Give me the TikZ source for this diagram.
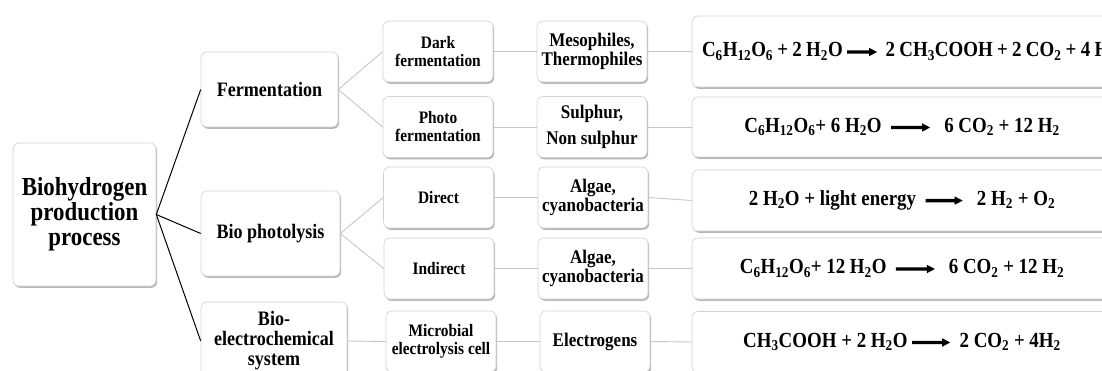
\documentclass[tikz,border=0pt]{standalone}
\usepackage{fontspec}
\setmainfont{Liberation Serif}[FakeStretch=0.88]
\usetikzlibrary{shadows}
\newcommand{\ssub}[1]{\textsubscript{#1}}
\newcommand{\eqsp}{\spaceskip=0.2em plus 0.02em\relax}
\newcommand{\rarr}[1]{\tikz[baseline=-5pt, sharp corners]{\fill[black, sharp corners] (0pt,1.7pt) -- (#1-8pt,1.7pt) -- (#1-8pt,4.2pt) -- (#1,0pt) -- (#1-8pt,-4.2pt) -- (#1-8pt,-1.7pt) -- (0pt,-1.7pt) -- cycle;}}
\begin{document}
\begin{tikzpicture}[x=1pt,y=-1pt,
  box/.style={draw=gray!35, line width=0.6pt, rounded corners=6pt, fill=white, align=center, inner sep=2pt,
    drop shadow={shadow xshift=1.2pt, shadow yshift=-1.8pt, fill=gray!80, opacity=0.7}},
  rootbox/.style={box, minimum width=143pt, minimum height=143pt, font=\bfseries\fontsize{26}{25}\selectfont},
  lvlone/.style={box, font=\bfseries\fontsize{20.5}{20}\selectfont},
  lvltwo/.style={box, minimum width=110pt, minimum height=61pt, font=\bfseries\fontsize{17.5}{18}\selectfont},
  lvlthree/.style={box, minimum width=110pt, minimum height=61pt, font=\bfseries\fontsize{19.3}{19}\selectfont},
  eqbox/.style={box, minimum width=420pt, text width=400pt, inner xsep=10pt,
    font=\bfseries\fontsize{21.5}{22}\selectfont},
  mainline/.style={draw=black, line width=1pt},
  subline/.style={draw=gray!45, line width=0.9pt}]
\clip (0,0) rectangle (1102,371);
\fill[white] (0,0) rectangle (1102,371);

\node[rootbox] (root) at (84.5,214.5) {Biohydrogen\\production\\process};

\node[lvlone, minimum width=137pt, minimum height=75pt] (ferm) at (269.5,89.5) {Fermentation};
\node[lvlone, minimum width=139pt, minimum height=85pt] (photo) at (270.5,233.5) {Bio photolysis};
\node[lvlone, minimum width=146pt, minimum height=78pt] (bes) at (274,341) {Bio-\\electrochemical\\system};

\node[lvltwo] (dark) at (438,51.5) {Dark\\fermentation};
\node[lvltwo] (pf) at (438,127) {Photo\\fermentation};
\node[lvltwo] (direct) at (438.5,197.5) {Direct};
\node[lvltwo] (indirect) at (439,268.5) {Indirect};
\node[lvltwo] (mec) at (441,341.5) {Microbial\\electrolysis cell};

\node[lvlthree] (meso) at (592,51.5) {Mesophiles,\\Thermophiles};
\node[lvlthree] (sulph) at (592,127) {Sulphur,\\[7pt]Non sulphur};
\node[lvlthree] (algone) at (593,197.5) {Algae,\\cyanobacteria};
\node[lvlthree] (algtwo) at (593,268.5) {Algae,\\cyanobacteria};
\node[lvlthree] (elec) at (595,341.5) {Electrogens};

\node[eqbox, minimum height=71pt, align=left] (eqone) at (902,51.5)
  {\eqsp\mbox{C\ssub{6}H\ssub{12}O\ssub{6} + 2 H\ssub{2}O \rarr{30pt}\ \ 2 CH\ssub{3}COOH + 2 CO\ssub{2} + 4 H\ssub{2}}};
\node[eqbox, minimum height=60pt, align=center] (eqtwo) at (902,127)
  {\eqsp C\ssub{6}H\ssub{12}O\ssub{6}+ 6 H\ssub{2}O\ \ \rarr{39pt}\ \ \ 6 CO\ssub{2} + 12 H\ssub{2}};
\node[eqbox, minimum height=61pt, align=center] (eqthree) at (902,200.5)
  {\eqsp 2 H\ssub{2}O + light energy\ \ \rarr{37pt}\ \ \ 2 H\ssub{2} + O\ssub{2}};
\node[eqbox, minimum height=61pt, align=center] (eqfour) at (902,268.5)
  {\eqsp C\ssub{6}H\ssub{12}O\ssub{6}+ 12 H\ssub{2}O\ \ \rarr{39pt}\ \ \ 6 CO\ssub{2} + 12 H\ssub{2}};
\node[eqbox, minimum height=61pt, align=center] (eqfive) at (902,342)
  {\eqsp CH\ssub{3}COOH + 2 H\ssub{2}O\ \rarr{38pt}\ \ 2 CO\ssub{2} + 4H\ssub{2}};

\draw[mainline] (root.east) -- (ferm.west);
\draw[mainline] (root.east) -- (photo.west);
\draw[mainline] (root.east) -- (bes.west);

\draw[subline] (ferm.east) -- (dark.west);
\draw[subline] (ferm.east) -- (pf.west);
\draw[subline] (photo.east) -- (direct.west);
\draw[subline] (photo.east) -- (indirect.west);
\draw[subline] (bes.east) -- (mec.west);

\draw[subline] (dark.east) -- (meso.west);
\draw[subline] (pf.east) -- (sulph.west);
\draw[subline] (direct.east) -- (algone.west);
\draw[subline] (indirect.east) -- (algtwo.west);
\draw[subline] (mec.east) -- (elec.west);

\draw[subline] (meso.east) -- (eqone.west);
\draw[subline] (sulph.east) -- (eqtwo.west);
\draw[subline] (algone.east) -- (eqthree.west);
\draw[subline] (algtwo.east) -- (eqfour.west);
\draw[subline] (elec.east) -- (eqfive.west);
\end{tikzpicture}
\end{document}
